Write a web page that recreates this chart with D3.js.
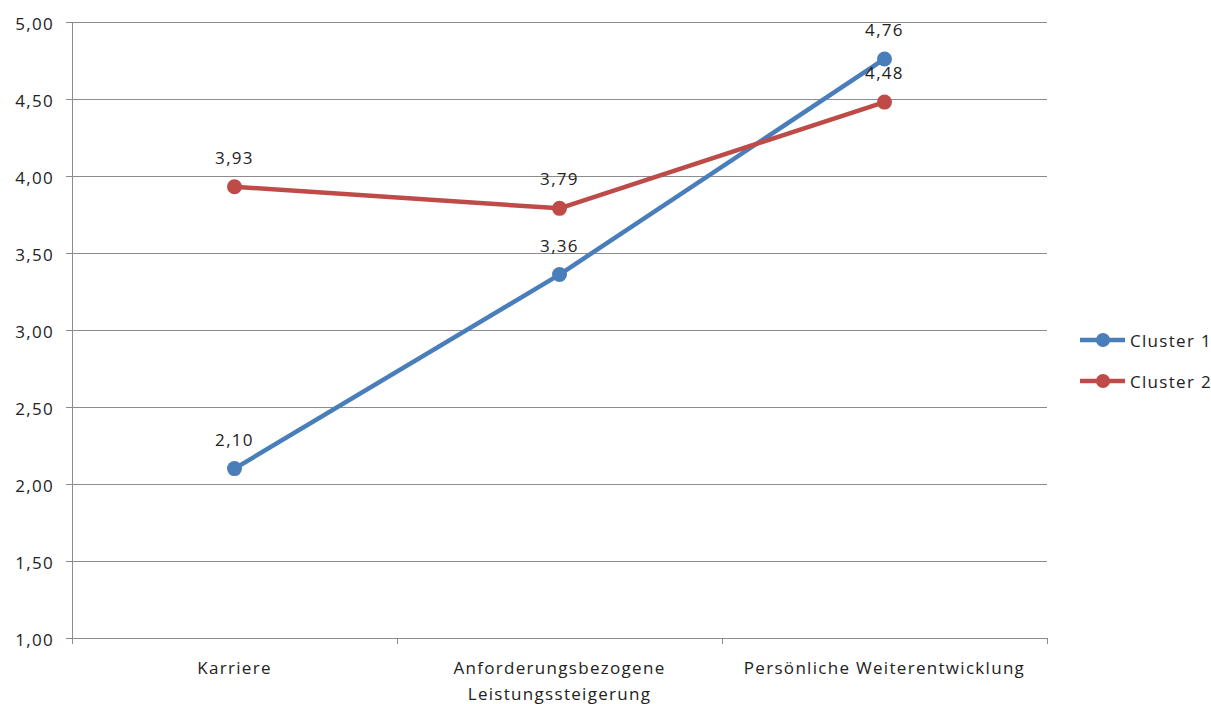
<!DOCTYPE html>
<html>
<head>
<meta charset="utf-8">
<script src="https://cdn.jsdelivr.net/npm/d3@7"></script>
<style>
  html, body { margin: 0; padding: 0; background: #fff; }
  svg { display: block; font-family: "Open Sans", sans-serif; }
  svg text { letter-spacing: 1.3px; }
</style>
</head>
<body>
<svg id="chart" width="1211" height="704"></svg>
<script>
// Category labels (each entry split into lines)
const categories = [
  ["Karriere"],
  ["Anforderungsbezogene", "Leistungssteigerung"],
  ["Persönliche Weiterentwicklung"]
];
const seriesNames = ["Cluster 1", "Cluster 2"];
const cluster1 = [2.10, 3.36, 4.76];
const cluster2 = [3.93, 3.79, 4.48];
const yTicks = [1.0, 1.5, 2.0, 2.5, 3.0, 3.5, 4.0, 4.5, 5.0];
const colors = ["#4a7ebb", "#be4b48"];

const FONT = 17;
const svg = d3.select("#chart");
const plotLeft = 72, plotRight = 1047, plotTop = 22, plotBottom = 638;

const x = d3.scaleBand().domain(d3.range(categories.length)).range([plotLeft, plotRight]);
const y = d3.scaleLinear().domain([1, 5]).range([plotBottom, plotTop]);
const fmt = v => d3.format(".2f")(v).replace(".", ",");

// Horizontal gridlines
svg.append("g")
  .selectAll("line")
  .data(yTicks.filter(t => t > 1))
  .join("line")
  .attr("x1", plotLeft).attr("x2", plotRight)
  .attr("y1", d => y(d)).attr("y2", d => y(d))
  .attr("stroke", "#8c8c8c").attr("stroke-width", 1)
  .attr("shape-rendering", "crispEdges");

// Y axis
const yAxis = svg.append("g")
  .attr("transform", `translate(${plotLeft},0)`)
  .call(d3.axisLeft(y).tickValues(yTicks).tickFormat(fmt).tickSize(6).tickPadding(12));
yAxis.select(".domain").attr("stroke", "#8c8c8c").attr("shape-rendering", "crispEdges");
yAxis.selectAll(".tick line").attr("stroke", "#8c8c8c").attr("shape-rendering", "crispEdges");
yAxis.selectAll("text")
  .attr("fill", "#222")
  .attr("font-size", FONT)
  .attr("font-family", "'Open Sans', sans-serif")
  .attr("dy", "0.42em");

// X axis line with boundary ticks
svg.append("line")
  .attr("x1", plotLeft - 6).attr("x2", plotRight)
  .attr("y1", plotBottom).attr("y2", plotBottom)
  .attr("stroke", "#8c8c8c").attr("shape-rendering", "crispEdges");
const bounds = d3.range(categories.length).map(i => x(i)).concat([x(categories.length - 1) + x.bandwidth()]);
svg.append("g").selectAll("line")
  .data(bounds)
  .join("line")
  .attr("x1", d => d).attr("x2", d => d)
  .attr("y1", plotBottom).attr("y2", plotBottom + 6)
  .attr("stroke", "#8c8c8c").attr("shape-rendering", "crispEdges");

// Category labels
const catG = svg.append("g");
categories.forEach((lines, i) => {
  const cx = x(i) + x.bandwidth() / 2;
  const t = catG.append("text")
    .attr("x", cx)
    .attr("y", 674)
    .attr("text-anchor", "middle")
    .attr("font-size", FONT)
    .attr("fill", "#222");
  lines.forEach((ln, j) => {
    t.append("tspan").attr("x", cx).attr("dy", j === 0 ? 0 : 26).text(ln);
  });
});

// Series lines, markers and value labels
const line = d3.line().x((d, i) => x(i) + x.bandwidth() / 2).y(d => y(d));
[cluster1, cluster2].forEach((vals, s) => {
  const g = svg.append("g");
  g.append("path")
    .datum(vals)
    .attr("d", line)
    .attr("fill", "none")
    .attr("stroke", colors[s])
    .attr("stroke-width", 4.5)
    .attr("stroke-linejoin", "round");
  g.selectAll("circle")
    .data(vals)
    .join("circle")
    .attr("cx", (d, i) => x(i) + x.bandwidth() / 2)
    .attr("cy", d => y(d))
    .attr("r", 7.5)
    .attr("fill", colors[s]);
  g.selectAll("text")
    .data(vals)
    .join("text")
    .attr("x", (d, i) => x(i) + x.bandwidth() / 2)
    .attr("y", d => y(d) - 23)
    .attr("text-anchor", "middle")
    .attr("font-size", FONT)
    .attr("fill", "#222")
    .text(d => fmt(d));
});

// Legend
const legend = svg.append("g");
seriesNames.forEach((name, s) => {
  const ly = 340 + s * 41;
  legend.append("line")
    .attr("x1", 1080).attr("x2", 1125)
    .attr("y1", ly).attr("y2", ly)
    .attr("stroke", colors[s]).attr("stroke-width", 4.5);
  legend.append("circle")
    .attr("cx", 1103).attr("cy", ly).attr("r", 7)
    .attr("fill", colors[s]);
  legend.append("text")
    .attr("x", 1130).attr("y", ly + 7)
    .attr("font-size", FONT)
    .attr("fill", "#222")
    .text(name);
});
</script>
</body>
</html>
